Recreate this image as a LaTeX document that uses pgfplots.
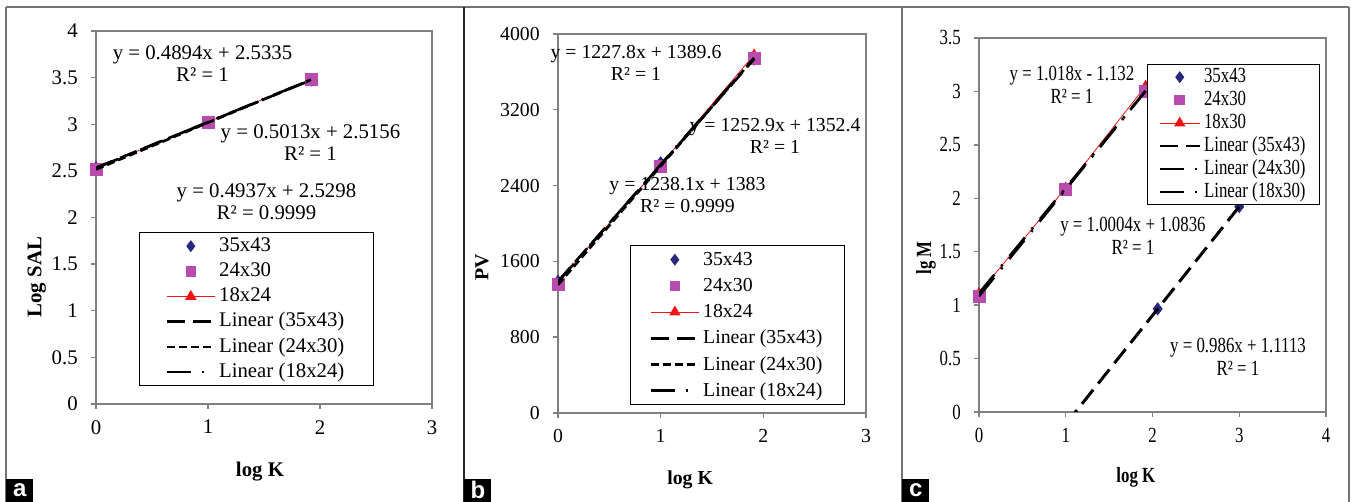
\documentclass[border=0pt]{standalone}
\usepackage{fontspec}
\setmainfont{Liberation Serif}
\newfontfamily\condserif[FakeStretch=0.78]{Liberation Serif}
\newfontfamily\labelsans{Liberation Sans}
\usepackage{pgfplots}
\pgfplotsset{compat=1.18}
\definecolor{mk35}{RGB}{40,40,125}
\definecolor{mk24}{RGB}{185,75,175}
\definecolor{mk18}{RGB}{240,20,20}
\definecolor{framegray}{RGB}{128,128,128}

\newcommand\fa{\fontsize{10.4}{11}\selectfont}
\newcommand\fb{\fontsize{9.9}{11}\selectfont}
\newcommand\fc{\condserif\fontsize{10.8}{11.5}\selectfont}

\tikzset{
  tr35/.style={black, line width=1.3pt, dash pattern=on 9pt off 4pt},
  tr24/.style={black, line width=1.3pt, dash pattern=on 4pt off 2pt},
  tr18/.style={black, line width=1.3pt, dash pattern=on 12pt off 5.5pt on 1pt off 5.5pt},
}
\pgfplotsset{
  excel/.style={
    scale only axis, clip mode=individual,
    axis line style={framegray, line width=0.7pt},
    every tick/.append style={framegray, line width=0.7pt},
    tick align=outside, major tick length=2.6pt, tick pos=left,
    /pgf/number format/assume math mode=true,
    /pgf/number format/1000 sep={},
    scaled ticks=false,
    xmin=0, ymin=0,
    yticklabel style={xshift=-3pt},
    xticklabel style={yshift=-2pt},
    legend cell align=left,
    legend style={draw=black, line width=0.5pt, fill=white, column sep=0pt,
      row sep=0pt, inner ysep=0.5pt,
      nodes={inner xsep=1.5pt, inner ysep=0pt}},
  },
  leg35/.style={legend image code/.code={\path (0pt,0pt) (\leglen,0pt);
      \draw[only marks, mark=diamond*, mark size=2.6pt, mk35] plot coordinates {(0.5*\leglen,0pt)};}},
  leg24/.style={legend image code/.code={\path (0pt,0pt) (\leglen,0pt);
      \draw[only marks, mark=square*, mark size=2.4pt, mk24] plot coordinates {(0.5*\leglen,0pt)};}},
  leg18/.style={legend image code/.code={\draw[mk18, line width=0.4pt] (0pt,0pt) -- (\leglen,0pt);
      \draw[only marks, mark=triangle*, mark size=2.8pt, mk18] plot coordinates {(0.5*\leglen,0pt)};}},
  legA/.style={legend image code/.code={\draw[tr35] (0pt,0pt) -- (\leglen,0pt);}},
  legB/.style={legend image code/.code={\draw[tr24] (0pt,0pt) -- (\leglen,0pt);}},
  legC/.style={legend image code/.code={\draw[tr18] (0pt,0pt) -- (\leglen,0pt);}},
}

\begin{document}
\begin{tikzpicture}
\path[use as bounding box] (0,0) rectangle (675.5pt,251pt);
\fill[white] (0,0) rectangle (675.5pt,251pt);

% ---- panel a
\def\leglen{24pt}
\begin{axis}[excel, at={(48pt,49pt)}, anchor=south west, width=168pt, height=186.5pt,
  xmax=3, ymax=4, xtick={0,1,2,3}, ytick={0,0.5,...,4},
  tick label style={font=\fa},
  xlabel={log K}, ylabel={Log SAL},
  label style={font=\fa\bfseries},
  xlabel style={at={(axis description cs:0.488,-0.18)}, anchor=center},
  ylabel style={at={(axis description cs:-0.176,0.340)}, anchor=center},
  legend style={font=\fa, at={(0.128,0.461)}, anchor=north west, inner xsep=13pt,
    nodes={text height=8.9pt, text depth=3.7pt}},
]
\addlegendimage{leg35}\addlegendentry{35x43}
\addlegendimage{leg24}\addlegendentry{24x30}
\addlegendimage{leg18}\addlegendentry{18x24}
\addlegendimage{legA}\addlegendentry{Linear (35x43)}
\addlegendimage{legB}\addlegendentry{Linear (24x30)}
\addlegendimage{legC}\addlegendentry{Linear (18x24)}
\addplot[forget plot, mk18, line width=0.4pt, mark=triangle*, mark size=2.8pt] coordinates {(0,2.5298) (1,3.0235) (1.92,3.4777)};
\addplot[forget plot, only marks, mk35, mark=diamond*, mark size=3pt] coordinates {(0,2.5335) (1,3.0229) (1.92,3.4731)};
\addplot[forget plot, only marks, mk24, mark=square*, mark size=3pt] coordinates {(0,2.5156) (1,3.0169) (1.92,3.4781)};
\addplot[forget plot, tr35] coordinates {(0,2.5335) (1.92,3.4731)};
\addplot[forget plot, tr24] coordinates {(0,2.5156) (1.92,3.4781)};
\addplot[forget plot, tr18] coordinates {(0,2.5298) (1.92,3.4777)};
\node[font=\fa, align=center] at (axis cs:0.951,3.646) {y = 0.4894x + 2.5335\\R² = 1};
\node[font=\fa, align=center] at (axis cs:1.915,2.799) {y = 0.5013x + 2.5156\\R² = 1};
\node[font=\fa, align=center] at (axis cs:1.522,2.166) {y = 0.4937x + 2.5298\\R² = 0.9999};
\end{axis}

% ---- panel b
\def\leglen{24pt}
\begin{axis}[excel, at={(279pt,44.5pt)}, anchor=south west, width=154pt, height=189.5pt,
  xmax=3, ymax=4000, xtick={0,1,2,3}, ytick={0,800,...,4000},
  tick label style={font=\fb},
  xlabel={log K}, ylabel={PV},
  label style={font=\fb\bfseries},
  xlabel style={at={(axis description cs:0.429,-0.177)}, anchor=center},
  ylabel style={at={(axis description cs:-0.247,0.385)}, anchor=center},
  legend style={font=\fb, at={(0.234,0.443)}, anchor=north west, inner xsep=9.5pt,
    nodes={text height=9.3pt, text depth=3.8pt}},
]
\addlegendimage{leg35}\addlegendentry{35x43}
\addlegendimage{leg24}\addlegendentry{24x30}
\addlegendimage{leg18}\addlegendentry{18x24}
\addlegendimage{legA}\addlegendentry{Linear (35x43)}
\addlegendimage{legB}\addlegendentry{Linear (24x30)}
\addlegendimage{legC}\addlegendentry{Linear (18x24)}
\addplot[forget plot, mk18, line width=0.4pt, mark=triangle*, mark size=2.8pt] coordinates {(0,1383) (1,2621.1) (1.91,3780)};
\addplot[forget plot, only marks, mk35, mark=diamond*, mark size=3pt] coordinates {(0,1389.6) (1,2640) (1.91,3734.7)};
\addplot[forget plot, only marks, mk24, mark=square*, mark size=3pt] coordinates {(0,1352.4) (1,2605.3) (1.91,3745.4)};
\addplot[forget plot, tr35] coordinates {(0,1389.6) (1.91,3734.7)};
\addplot[forget plot, tr24] coordinates {(0,1352.4) (1.91,3745.4)};
\addplot[forget plot, tr18] coordinates {(0,1383) (1.91,3747.8)};
\node[font=\fb, align=center] at (axis cs:0.760,3699) {y = 1227.8x + 1389.6\\R² = 1};
\node[font=\fb, align=center] at (axis cs:2.114,2923) {y = 1252.9x + 1352.4\\R² = 1};
\node[font=\fb, align=center] at (axis cs:1.261,2301) {y = 1238.1x + 1383\\R² = 0.9999};
\end{axis}

% ---- panel c
\def\leglen{20pt}
\begin{axis}[excel, at={(489.5pt,45pt)}, anchor=south west, width=173.5pt, height=187pt,
  xmax=4, ymax=3.5, xtick={0,1,2,3,4}, ytick={0,0.5,...,3.5},
  tick label style={font=\fc},
  xlabel={log K}, ylabel={lg M},
  label style={font=\fc\bfseries},
  xlabel style={at={(axis description cs:0.452,-0.176)}, anchor=center},
  ylabel style={at={(axis description cs:-0.153,0.412)}, anchor=center},
  legend style={font=\fc, at={(0.484,0.930)}, anchor=north west, inner xsep=5.5pt,
    nodes={text height=8.3pt, text depth=3.2pt}},
]
\addlegendimage{leg35}\addlegendentry{35x43}
\addlegendimage{leg24}\addlegendentry{24x30}
\addlegendimage{leg18}\addlegendentry{18x30}
\addlegendimage{legA}\addlegendentry{Linear (35x43)}
\addlegendimage{legC}\addlegendentry{Linear (24x30)}
\addlegendimage{legC}\addlegendentry{Linear (18x30)}
\addplot[forget plot, mk18, line width=0.4pt, mark=triangle*, mark size=2.8pt] coordinates {(0,1.1113) (1,2.0973) (1.92,3.05)};
\addplot[forget plot, only marks, mk35, mark=diamond*, mark size=3pt] coordinates {(1.0,-0.114) (2.06,0.965) (3,1.922)};
\addplot[forget plot, only marks, mk24, mark=square*, mark size=3pt] coordinates {(0,1.0836) (1,2.084) (1.92,3.0044)};
\addplot[forget plot, tr35, line width=1.5pt] coordinates {(1.0,-0.114) (3,1.922)};
\addplot[forget plot, tr18] coordinates {(0,1.0836) (1.92,3.0044)};
\addplot[forget plot, tr18] coordinates {(0,1.1113) (1.92,3.0044)};
\node[font=\fc, align=center] at (axis cs:1.072,3.065) {y = 1.018x - 1.132\\R² = 1};
\node[font=\fc, align=center] at (axis cs:1.775,1.652) {y = 1.0004x + 1.0836\\R² = 1};
\node[font=\fc, align=center] at (axis cs:2.986,0.519) {y = 0.986x + 1.1113\\R² = 1};
\end{axis}

% ---- panel frames and letters
\draw[black!55, line width=0.8pt] (3pt,247.5pt) -- (674.5pt,247.5pt);
\draw[black!55, line width=0.8pt] (3pt,0) -- (3pt,247.5pt);
\draw[black!85, line width=0.8pt] (232pt,0) -- (232pt,247.5pt);
\draw[black!55, line width=0.8pt] (451pt,0) -- (451pt,247.5pt);
\draw[black!55, line width=0.8pt] (674.5pt,0) -- (674.5pt,247.5pt);
\foreach \xx/\lab in {3pt/a, 232pt/b, 451pt/c}
  \node[fill=black, text=white, font=\labelsans\bfseries\fontsize{12}{12}\selectfont,
    minimum width=13.5pt, minimum height=11.5pt, inner sep=0pt, anchor=south west] at (\xx,0pt) {\lab};
\end{tikzpicture}
\end{document}
